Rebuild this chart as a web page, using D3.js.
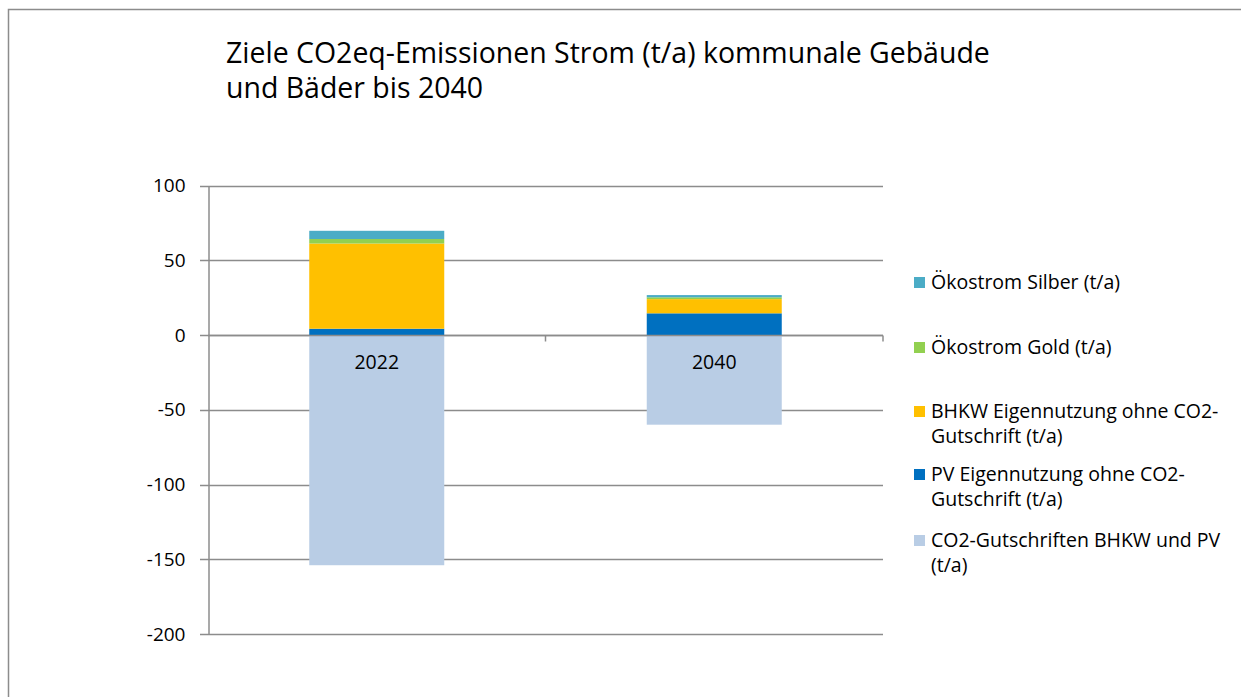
<!DOCTYPE html>
<html>
<head>
<meta charset="utf-8">
<script src="https://cdn.jsdelivr.net/npm/d3@7"></script>
<style>
  body { margin: 0; background: #fff; }
  text { font-family: "Open Sans", "Noto Sans", sans-serif; fill: #000; }
</style>
</head>
<body>
<svg id="chart" width="1241" height="697"></svg>
<script>
// data
let years = ["2022", "2040"]
let series = ["CO2-Gutschriften BHKW und PV (t/a)", "PV Eigennutzung ohne CO2-Gutschrift (t/a)",
  "BHKW Eigennutzung ohne CO2-Gutschrift (t/a)", "Ökostrom Gold (t/a)", "Ökostrom Silber (t/a)"]
let gutschriften = [-154, -60]
let pvEigen = [4.2, 14.5]
let bhkwEigen = [57, 9.5]
let oekoGold = [3, 1.2]
let oekoSilber = [5.5, 1.5]
let colors = ["#b9cde5", "#0070c0", "#ffc000", "#92d050", "#4bacc6"]
let yTicks = [100, 50, 0, -50, -100, -150, -200]
let legendLines = [
  ["Ökostrom Silber (t/a)"],
  ["Ökostrom Gold (t/a)"],
  ["BHKW Eigennutzung ohne CO2-", "Gutschrift (t/a)"],
  ["PV Eigennutzung ohne CO2-", "Gutschrift (t/a)"],
  ["CO2-Gutschriften BHKW und PV", "(t/a)"]
]

let svg = d3.select("#chart")

//outer frame
svg.append("rect")
  .attr("x", 8.5).attr("y", 9.5)
  .attr("width", 1260).attr("height", 720)
  .attr("fill", "none").attr("stroke", "#8c8c8c").attr("stroke-width", 1.5)

//title
let title = svg.append("text").attr("x", 226).attr("font-size", 24)
title.append("tspan").attr("x", 226).attr("y", 63).text("Ziele CO2eq-Emissionen Strom (t/a) kommunale Gebäude")
title.append("tspan").attr("x", 226).attr("y", 98).text("und Bäder bis 2040")
let tw = title.select("tspan").node().getComputedTextLength()
title.attr("font-size", 24 * 764 / tw)

//scales
let x = d3.scaleBand().domain(years).range([208, 883]).paddingInner(0.6).paddingOuter(0.3)
let y = d3.scaleLinear().domain([-200, 100]).range([634, 185.5])

//gridlines
svg.append("g").selectAll("line")
  .data(yTicks)
  .enter()
  .append("line")
  .attr("x1", 200).attr("x2", 883)
  .attr("y1", d => Math.round(y(d)) + 0.5).attr("y2", d => Math.round(y(d)) + 0.5)
  .attr("stroke", "#8c8c8c").attr("stroke-width", 1.5)

//y axis
let yAxis = svg.append("g")
  .attr("transform", "translate(208.5,0)")
  .call(d3.axisLeft(y).tickValues(yTicks).tickSize(0).tickPadding(23).tickFormat(d => String(d)))
yAxis.select(".domain").attr("stroke", "#8c8c8c").attr("stroke-width", 1.5)
yAxis.selectAll("text").attr("font-size", 19).attr("font-family", "Open Sans").attr("fill", "#000")

//stacked bars
let rows = years.map((yr, i) => ({
  year: yr,
  vals: [gutschriften[i], pvEigen[i], bhkwEigen[i], oekoGold[i], oekoSilber[i]]
}))

rows.forEach(r => {
  let pos = 0
  r.vals.forEach((v, k) => {
    let y0, y1
    if (v < 0) { y0 = 0; y1 = v }
    else { y0 = pos; y1 = pos + v; pos += v }
    svg.append("rect")
      .attr("x", x(r.year))
      .attr("width", x.bandwidth())
      .attr("y", y(Math.max(y0, y1)))
      .attr("height", Math.abs(y(y0) - y(y1)))
      .attr("fill", colors[k])
  })
})

//category axis line at zero
let zeroY = Math.round(y(0)) + 0.5
svg.append("line")
  .attr("x1", 208).attr("x2", 883).attr("y1", zeroY).attr("y2", zeroY)
  .attr("stroke", "#8c8c8c").attr("stroke-width", 1.5)
svg.append("g").selectAll("line")
  .data([208 + (883 - 208) / 2, 883])
  .enter()
  .append("line")
  .attr("x1", d => d).attr("x2", d => d)
  .attr("y1", zeroY).attr("y2", zeroY + 6)
  .attr("stroke", "#8c8c8c").attr("stroke-width", 1.5)

//category labels
svg.append("g").selectAll("text")
  .data(years)
  .enter()
  .append("text")
  .attr("x", d => x(d) + x.bandwidth() / 2)
  .attr("y", 369)
  .attr("text-anchor", "middle")
  .attr("font-size", 19.5)
  .text(d => d)

//legend
let legendY = [282, 347, 411, 474, 540]
let legend = svg.append("g")
legendLines.forEach((lines, i) => {
  legend.append("rect")
    .attr("x", 914).attr("y", legendY[i] - 5)
    .attr("width", 11).attr("height", 11)
    .attr("fill", colors[4 - i])
  let t = legend.append("text").attr("font-size", 19.5)
  lines.forEach((ln, j) => {
    t.append("tspan").attr("x", 931).attr("y", legendY[i] + 7 + j * 25).text(ln)
  })
})
</script>
</body>
</html>
